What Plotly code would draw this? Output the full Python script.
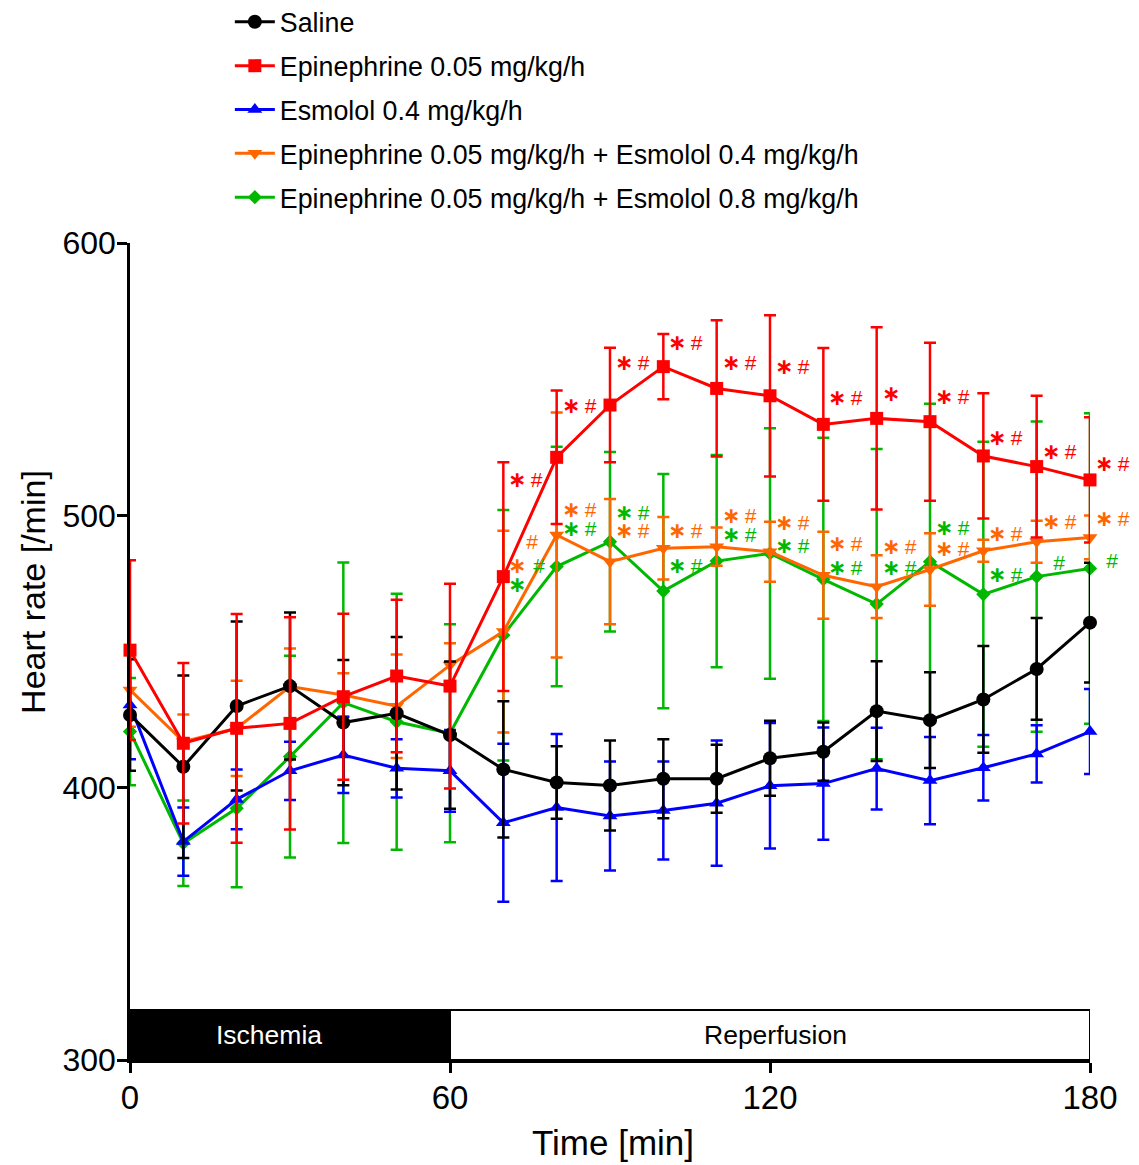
import plotly.graph_objects as go

# ---------------- data ----------------
times = [0, 10, 20, 30, 40, 50, 60, 70, 80, 90, 100, 110, 120, 130, 140, 150, 160, 170, 180]

saline = [426.7, 407.7, 430.0, 437.3, 423.9, 427.3, 419.3, 406.7, 401.9, 400.8, 403.3, 403.3, 410.8, 413.2, 428.1, 424.8, 432.4, 443.6, 460.6]
saline_err = [20.5, 33.5, 31, 27, 23, 28, 27, 25, 13.3, 16.5, 14.5, 12.5, 13.8, 10.7, 18.3, 17.6, 19.6, 18.7, 22]

epi = [450.5, 416.3, 421.8, 423.6, 433.4, 441.0, 437.3, 477.5, 521.3, 540.5, 554.6, 546.6, 543.9, 533.4, 535.6, 534.4, 521.8, 517.9, 513.0]
epi_err = [33, 29.5, 42, 39, 30.5, 28, 37.6, 42, 24.5, 21, 12, 25, 29.6, 28, 33.5, 29, 23, 26, 23]

esm = [430.4, 380.2, 395.7, 406.2, 412.0, 407.1, 406.2, 387.1, 392.7, 389.6, 391.6, 394.3, 400.7, 401.5, 407.0, 402.6, 407.3, 412.4, 420.6]
esm_err = [20, 12.5, 11, 10.7, 14, 10.7, 15, 29, 27, 20, 18, 23, 23, 20.6, 15, 16, 12, 10.5, 15.6]

epi_esm04 = [435.9, 416.9, 421.8, 437.1, 434.0, 429.9, 445.0, 457.3, 492.8, 483.0, 487.9, 488.5, 486.6, 478.0, 473.8, 480.1, 487.0, 490.3, 491.9]
epi_esm04_err = [13.5, 10, 17.5, 14, 8, 19, 8, 37, 45, 23, 11.5, 7, 11, 16, 11.5, 13.3, 4, 7.7, 8]

epi_esm08 = [420.6, 379.6, 392.4, 411.4, 431.2, 424.2, 420.0, 456.0, 481.2, 490.3, 472.2, 483.2, 486.0, 476.5, 467.4, 483.0, 471.0, 477.5, 480.5]
epi_esm08_err = [19.7, 15.7, 29, 37, 51.5, 47, 40, 46, 44, 33, 43, 39, 46, 52, 57, 58, 56, 57, 57]

names = ["Saline", "Epinephrine 0.05 mg/kg/h", "Esmolol 0.4 mg/kg/h",
         "Epinephrine 0.05 mg/kg/h + Esmolol 0.4 mg/kg/h",
         "Epinephrine 0.05 mg/kg/h + Esmolol 0.8 mg/kg/h"]

# significance labels (time, label position in heart-rate units, label text)
# "*" = vs. saline, "#" = vs. esmolol; leading "_" = one blank step before the label
sig_red_t = [70, 80, 90, 100, 110, 120, 130, 140, 150, 160, 170, 180]
sig_red_y = [513.0, 540.5, 556.3, 563.3, 556.3, 554.8, 543.1, 544.6, 543.5, 528.4, 523.3, 519.2]
sig_red_txt = ["*#", "*#", "*#", "*#", "*#", "*#", "*#", "*", "*#", "*#", "*#", "*#"]

sig_orange_t = [70, 70, 80, 90, 100, 110, 120, 130, 140, 150, 160, 170, 180]
sig_orange_y = [490.5, 481.5, 502.3, 494.6, 494.6, 500.1, 497.2, 489.8, 488.4, 488.0, 493.5, 497.9, 499.0]
sig_orange_txt = ["__#", "*", "*#", "*#", "*#", "*#", "*#", "*#", "*#", "*#", "*#", "*#", "*#"]

sig_green_t = [70, 70, 80, 90, 100, 110, 120, 130, 140, 150, 160, 170, 180]
sig_green_y = [481.5, 474.5, 495.3, 501.2, 481.4, 492.8, 489.1, 481.0, 480.7, 495.7, 478.1, 482.5, 483.6]
sig_green_txt = ["___#", "*", "*#", "*#", "*#", "*#", "*#", "*#", "*#", "*#", "*#", "_#", "_#"]

phase_labels = ["Ischemia", "Reperfusion"]
phase_start = [0, 60]
phase_end = [60, 180]

# ---------------- styles ----------------
BLACK = "#000000"
RED = "#FF0000"
BLUE = "#0000FF"
ORANGE = "#FF6600"
GREEN = "#00B800"
FONT = "Liberation Sans, Arial, sans-serif"

series = [
    # (y, err, name, color, symbol, size, rank)
    (epi_esm08, epi_esm08_err, names[4], GREEN, "diamond", 11, 5),
    (epi_esm04, epi_esm04_err, names[3], ORANGE, "triangle-down", 13, 4),
    (esm, esm_err, names[2], BLUE, "triangle-up", 13, 3),
    (saline, saline_err, names[0], BLACK, "circle", 14, 1),
    (epi, epi_err, names[1], RED, "square", 13, 2),
]

fig = go.Figure()
for y, err, name, color, symbol, size, rank in series:
    fig.add_trace(go.Scatter(
        x=times, y=y, name=name, mode="lines+markers",
        line=dict(color=color, width=3),
        marker=dict(color=color, symbol=symbol, size=size, line=dict(width=0)),
        error_y=dict(type="data", array=err, visible=True, color=color, thickness=2.5, width=6),
        legendrank=rank, legendgroup=name, cliponaxis=False,
    ))

annotations = []

STAR = '<span style="font-family:DejaVu Sans;font-size:22px"><b>\u2217</b></span>'
HASH = '<span style="font-size:21px">\u2009#</span>'
PAD = '<span style="font-size:14px">\u2002</span>'


def sig_text(lbl):
    out = ""
    for ch in lbl:
        if ch == "*":
            out += STAR
        elif ch == "#":
            out += HASH
        else:
            out += PAD
    return out


for ts, ys, txts, color in [(sig_red_t, sig_red_y, sig_red_txt, RED),
                             (sig_orange_t, sig_orange_y, sig_orange_txt, ORANGE),
                             (sig_green_t, sig_green_y, sig_green_txt, GREEN)]:
    for t, yv, lbl in zip(ts, ys, txts):
        annotations.append(dict(
            x=t, y=yv, xref="x", yref="y", text=sig_text(lbl), showarrow=False,
            xanchor="left", yanchor="middle", xshift=3,
            font=dict(family=FONT, size=20, color=color)))

shapes = []
for i, (s, e, lbl) in enumerate(zip(phase_start, phase_end, phase_labels)):
    filled = i == 0
    shapes.append(dict(type="rect", xref="x", yref="y", x0=s, x1=e, y0=300, y1=318.4,
                       fillcolor=BLACK if filled else "white",
                       line=dict(color=BLACK, width=2), layer="below"))
    annotations.append(dict(x=(s + e) / 2 + (-4 if filled else 1), y=309.2, xref="x", yref="y",
                            text=lbl, showarrow=False,
                            font=dict(family=FONT, size=26.5, color="white" if filled else BLACK)))

# axis titles
annotations.append(dict(x=-0.101, y=0.573, xref="paper", yref="paper", text="Heart rate [/min]",
                        textangle=-90, showarrow=False, xanchor="center", yanchor="middle",
                        font=dict(family=FONT, size=34, color=BLACK)))
annotations.append(dict(x=0.503, y=-0.1004, xref="paper", yref="paper", text="Time [min]",
                        showarrow=False, xanchor="center", yanchor="middle",
                        font=dict(family=FONT, size=35, color=BLACK)))

fig.update_layout(
    width=1139, height=1165,
    margin=dict(l=130, r=49, t=243, b=105, autoexpand=False),
    paper_bgcolor="white", plot_bgcolor="white",
    font=dict(family=FONT, color=BLACK),
    shapes=shapes, annotations=annotations,
    legend=dict(x=0.104, y=1.3, xanchor="left", yanchor="top",
                font=dict(family=FONT, size=26.8, color=BLACK),
                tracegroupgap=6, bgcolor="rgba(0,0,0,0)", itemwidth=40),
    showlegend=True,
)
fig.update_xaxes(range=[0, 180], tickvals=[0, 60, 120, 180], showgrid=False, zeroline=False,
                 showline=True, linecolor=BLACK, linewidth=2.5, ticks="outside", ticklen=10,
                 tickwidth=2.5, tickcolor=BLACK, ticklabelstandoff=-3,
                 tickfont=dict(family=FONT, size=33, color=BLACK))
fig.update_yaxes(range=[300, 600], tickvals=[300, 400, 500, 600], showgrid=False, zeroline=False,
                 showline=True, linecolor=BLACK, linewidth=2.5, ticks="outside", ticklen=10,
                 tickwidth=2.5, tickcolor=BLACK, ticklabelstandoff=-5,
                 tickfont=dict(family=FONT, size=32, color=BLACK))

fig.write_html("out.html")
